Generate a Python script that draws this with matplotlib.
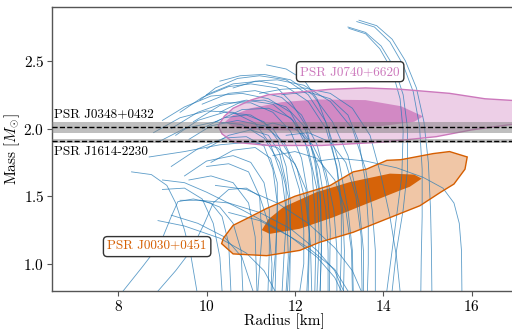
import matplotlib
matplotlib.use("Agg")
import matplotlib.pyplot as plt
from matplotlib.patches import Polygon

plt.rcParams["font.family"] = "serif"
plt.rcParams["font.serif"] = ["cmr10"]
plt.rcParams["mathtext.fontset"] = "cm"
plt.rcParams["axes.formatter.use_mathtext"] = True
plt.rcParams["axes.unicode_minus"] = False

# Pulsar mass bands (mass, error)
j0348_mass, j0348_err = 2.01, 0.04
j1614_mass, j1614_err = 1.908, 0.016

# NICER contours (radius, mass)
j0740_outer = [(10.26, 2.02), (10.4, 2.09), (10.6, 2.15), (11.0, 2.21), (11.4, 2.25),
               (12.1, 2.27), (12.8, 2.29), (13.6, 2.30), (14.4, 2.29), (15.5, 2.26),
               (16.3, 2.22), (17.3, 2.20), (17.3, 2.04), (16.9, 2.03), (16.0, 1.99),
               (15.2, 1.94), (14.0, 1.90), (12.6, 1.875), (11.4, 1.875), (10.6, 1.90),
               (10.35, 1.96)]
j0740_inner = [(10.42, 2.05), (10.6, 2.10), (11.0, 2.15), (11.7, 2.195), (12.5, 2.215),
               (13.6, 2.21), (14.4, 2.165), (14.9, 2.09), (14.7, 2.05), (14.0, 2.02),
               (13.0, 2.0), (12.0, 1.985), (11.0, 1.99), (10.6, 2.01)]
j0030_outer = [(10.34, 1.15), (10.38, 1.19), (10.6, 1.285), (11.0, 1.35), (11.36, 1.41),
               (12.0, 1.50), (12.56, 1.556), (12.8, 1.58), (13.32, 1.68), (13.62, 1.70),
               (14.08, 1.765), (14.4, 1.77), (15.13, 1.815), (15.5, 1.83), (15.9, 1.79),
               (15.85, 1.70), (15.6, 1.59), (15.3, 1.53), (14.83, 1.43), (14.08, 1.333),
               (13.32, 1.234), (12.56, 1.16), (12.11, 1.10), (11.36, 1.061), (10.6, 1.074)]
j0030_inner = [(11.25, 1.25), (11.4, 1.33), (11.74, 1.42), (12.49, 1.53), (13.25, 1.605),
               (14.15, 1.667), (14.7, 1.66), (14.87, 1.63), (14.6, 1.57), (14.38, 1.543),
               (13.62, 1.444), (12.87, 1.345), (12.11, 1.26), (11.43, 1.222)]

# EOS mass-radius curves, (radius km, mass Msun)
stiff_curves = [
    [(13.45, 2.80), (13.85, 2.76), (14.2, 2.66), (14.5, 2.50), (14.75, 2.30), (14.92, 2.05), (15.02, 1.75), (15.07, 1.40), (15.09, 1.10), (15.1, 0.8)],
    [(13.4, 2.79), (13.8, 2.75), (14.15, 2.64), (14.45, 2.47), (14.68, 2.27), (14.82, 2.02), (14.88, 1.70), (14.88, 1.35), (14.86, 1.05), (14.85, 0.8)],
    [(13.2, 2.75), (13.6, 2.71), (13.95, 2.61), (14.25, 2.45), (14.45, 2.25), (14.55, 2.0), (14.55, 1.7), (14.45, 1.4), (14.3, 1.1), (14.2, 0.8)],
    [(13.22, 2.74), (13.6, 2.70), (13.92, 2.59), (14.2, 2.43), (14.38, 2.22), (14.45, 1.98), (14.42, 1.65), (14.3, 1.35), (14.18, 1.05), (14.08, 0.8)],
    [(12.5, 1.76), (13.0, 1.78), (13.6, 1.76), (14.3, 1.71), (14.9, 1.64), (15.35, 1.56), (15.6, 1.45), (15.72, 1.3), (15.77, 1.1), (15.78, 0.8)],
    [(11.36, 2.47), (11.8, 2.44), (12.2, 2.36), (12.5, 2.22), (12.75, 2.0), (12.95, 1.7), (13.05, 1.4), (13.05, 1.1), (13.02, 0.8)],
    [(9.85, 2.21), (10.2, 2.30), (10.7, 2.37), (11.2, 2.39), (11.8, 2.36), (12.3, 2.25), (12.7, 2.05), (13.0, 1.75), (13.2, 1.4), (13.3, 1.1), (13.32, 0.8)],
    [(9.4, 2.12), (9.9, 2.23), (10.5, 2.31), (11.0, 2.33), (11.6, 2.30), (11.9, 2.2), (12.25, 2.02), (12.45, 1.75), (12.58, 1.45), (12.6, 1.1), (12.57, 0.8)],
    [(9.0, 2.06), (9.5, 2.16), (10.1, 2.24), (10.8, 2.26), (11.4, 2.22), (11.9, 2.12), (12.2, 1.94), (12.38, 1.7), (12.45, 1.4), (12.47, 1.1), (12.45, 0.8)],
    [(10.6, 2.30), (11.1, 2.35), (11.6, 2.36), (12.2, 2.32), (12.8, 2.20), (13.3, 2.0), (13.6, 1.7), (13.75, 1.4), (13.82, 1.1), (13.82, 0.8)],
    [(11.2, 2.26), (11.7, 2.29), (12.2, 2.30), (12.8, 2.26), (13.3, 2.15), (13.7, 1.95), (13.95, 1.65), (14.15, 1.35), (14.3, 1.05), (14.38, 0.8)],
    [(10.3, 2.35), (10.76, 2.39), (11.3, 2.40), (11.9, 2.36), (12.4, 2.25), (12.85, 2.05), (13.2, 1.8), (13.45, 1.45), (13.55, 1.1), (13.55, 0.8)],
    [(11.7, 2.25), (12.3, 2.27), (12.8, 2.22), (13.2, 2.1), (13.45, 1.9), (13.6, 1.6), (13.66, 1.3), (13.66, 1.0), (13.64, 0.8)],
    [(10.0, 2.25), (10.6, 2.33), (11.2, 2.35), (11.8, 2.31), (12.3, 2.2), (12.7, 2.0), (12.95, 1.72), (13.08, 1.4), (13.12, 1.1), (13.1, 0.8)],
]
mid_curves = [
    [(9.3, 1.95), (9.8, 2.06), (10.4, 2.12), (11.0, 2.10), (11.5, 2.0), (11.85, 1.82), (12.1, 1.55), (12.2, 1.25), (12.2, 1.0), (12.11, 0.8)],
    [(9.6, 1.92), (10.1, 2.02), (10.7, 2.06), (11.3, 2.02), (11.75, 1.9), (12.05, 1.7), (12.25, 1.45), (12.35, 1.15), (12.38, 0.8)],
    [(10.2, 2.05), (10.8, 2.14), (11.4, 2.15), (11.9, 2.08), (12.3, 1.92), (12.55, 1.7), (12.7, 1.4), (12.75, 1.1), (12.75, 0.8)],
    [(8.7, 1.79), (9.5, 1.83), (10.3, 1.88), (11.0, 1.9), (11.6, 1.86), (12.0, 1.74), (12.25, 1.55), (12.32, 1.25), (12.3, 1.0), (12.27, 0.8)],
    [(9.9, 2.0), (10.4, 2.08), (10.9, 2.1), (11.3, 2.05), (11.6, 1.92), (11.8, 1.72), (11.9, 1.45), (11.9, 1.15), (11.83, 0.8)],
    [(10.0, 1.85), (10.5, 1.95), (11.0, 1.99), (11.4, 1.95), (11.65, 1.82), (11.8, 1.6), (11.8, 1.3), (11.75, 1.05), (11.71, 0.8)],
    [(9.2, 1.72), (9.8, 1.85), (10.4, 1.93), (10.9, 1.94), (11.3, 1.87), (11.5, 1.7), (11.6, 1.45), (11.58, 1.15), (11.55, 0.8)],
    [(10.1, 1.75), (10.6, 1.84), (11.1, 1.86), (11.45, 1.78), (11.6, 1.6), (11.6, 1.35), (11.55, 1.05), (11.48, 0.8)],
    [(9.5, 1.65), (10.0, 1.76), (10.6, 1.8), (11.0, 1.75), (11.3, 1.6), (11.42, 1.4), (11.42, 1.1), (11.39, 0.8)],
    [(10.3, 2.12), (10.8, 2.2), (11.3, 2.21), (11.8, 2.16), (12.2, 2.02), (12.45, 1.8), (12.58, 1.5), (12.6, 1.15), (12.57, 0.8)],
    [(9.7, 2.05), (10.3, 2.17), (10.9, 2.21), (11.5, 2.18), (11.95, 2.06), (12.3, 1.85), (12.5, 1.55), (12.55, 1.2), (12.5, 0.8)],
    [(8.9, 1.9), (9.5, 2.0), (10.2, 2.05), (10.8, 2.03), (11.3, 1.93), (11.65, 1.75), (11.85, 1.5), (11.9, 1.2), (11.88, 0.8)],
    [(9.9, 2.18), (10.5, 2.26), (11.1, 2.28), (11.7, 2.23), (12.15, 2.1), (12.5, 1.88), (12.72, 1.6), (12.8, 1.25), (12.78, 0.8)],
    [(11.0, 2.0), (11.5, 2.04), (12.0, 2.0), (12.4, 1.88), (12.7, 1.68), (12.88, 1.4), (12.95, 1.1), (12.95, 0.8)],
    [(11.8, 1.95), (12.3, 1.97), (12.8, 1.9), (13.15, 1.75), (13.38, 1.5), (13.5, 1.2), (13.52, 0.8)],
    [(11.5, 1.8), (12.0, 1.83), (12.5, 1.78), (12.9, 1.62), (13.15, 1.4), (13.28, 1.1), (13.3, 0.8)],
    [(9.2, 2.0), (9.8, 2.12), (10.4, 2.19), (11.0, 2.19), (11.5, 2.12), (11.9, 1.98), (12.15, 1.78), (12.3, 1.5), (12.33, 1.2), (12.3, 0.8)],
    [(8.8, 1.97), (9.4, 2.08), (10.0, 2.13), (10.6, 2.12), (11.1, 2.04), (11.45, 1.88), (11.7, 1.65), (11.82, 1.35), (11.85, 1.05), (11.8, 0.8)],
]
soft_curves = [
    [(8.3, 1.68), (8.75, 1.66), (9.1, 1.58), (9.3, 1.45), (9.5, 1.25), (9.65, 1.05), (9.78, 0.8)],
    [(8.11, 0.8), (8.55, 0.98), (8.95, 1.15), (9.2, 1.35), (9.35, 1.46), (9.7, 1.48), (10.1, 1.45), (10.35, 1.35), (10.5, 1.15), (10.55, 0.8)],
    [(8.9, 0.8), (9.3, 0.95), (9.65, 1.1), (9.95, 1.3), (10.15, 1.45), (10.5, 1.55), (10.9, 1.56), (11.2, 1.5), (11.4, 1.3), (11.48, 1.0), (11.46, 0.8)],
    [(8.9, 1.32), (9.5, 1.28), (10.3, 1.19), (10.9, 1.08), (11.3, 0.95), (11.55, 0.8)],
    [(9.2, 1.36), (9.8, 1.3), (10.4, 1.2), (10.8, 1.05), (11.05, 0.8)],
    [(9.4, 1.47), (9.9, 1.47), (10.3, 1.42), (10.6, 1.3), (10.78, 1.1), (10.82, 0.8)],
    [(9.6, 1.62), (10.1, 1.65), (10.6, 1.6), (10.95, 1.45), (11.1, 1.2), (11.14, 0.8)],
    [(10.0, 1.72), (10.5, 1.74), (10.95, 1.68), (11.2, 1.5), (11.25, 1.2), (11.16, 0.8)],
    [(9.85, 1.47), (10.5, 1.45), (11.2, 1.38), (11.9, 1.26), (12.5, 1.1), (12.9, 0.95), (13.1, 0.8)],
    [(9.0, 1.62), (9.5, 1.6), (10.0, 1.53), (10.8, 1.40), (11.6, 1.26), (12.3, 1.12), (12.9, 0.96), (13.2, 0.8)],
    [(10.2, 1.58), (10.9, 1.55), (11.6, 1.45), (12.3, 1.3), (12.9, 1.12), (13.3, 0.95), (13.5, 0.8)],
    [(10.5, 1.38), (11.2, 1.32), (11.9, 1.2), (12.5, 1.05), (12.9, 0.9), (13.05, 0.8)],
    [(9.0, 1.55), (9.5, 1.56), (9.9, 1.48), (10.15, 1.3), (10.3, 1.05), (10.35, 0.8)],
]

pink = "#cc78bc"
orange = "#d55e00"
blue = "#1f77b4"

fig = plt.figure(figsize=(5.12, 3.30), dpi=100)
ax = fig.add_axes([52 / 512, 1 - 291 / 330, 463.8 / 512, 284.3 / 330])

for curve in stiff_curves + mid_curves + soft_curves:
    r, m = zip(*curve)
    ax.plot(r, m, color=blue, lw=0.6, alpha=0.72, zorder=2)

ax.add_patch(Polygon(j0740_outer, closed=True, fc=pink, alpha=0.35, ec="none", zorder=1))
ax.add_patch(Polygon(j0740_outer, closed=True, fc="none", ec=pink, lw=1, zorder=3))
ax.add_patch(Polygon(j0740_inner, closed=True, fc=pink, alpha=0.8, ec="none", zorder=1.5))
ax.add_patch(Polygon(j0030_outer, closed=True, fc=orange, alpha=0.35, ec="none", zorder=1))
ax.add_patch(Polygon(j0030_outer, closed=True, fc="none", ec=orange, lw=1, zorder=3))
ax.add_patch(Polygon(j0030_inner, closed=True, fc=orange, alpha=0.95, ec="none", zorder=1.5))

ax.axhspan(j0348_mass - j0348_err, j0348_mass + j0348_err, color="gray", alpha=0.5, lw=0, zorder=4)
ax.axhline(j0348_mass, color="k", ls="--", lw=1, zorder=5)
ax.axhspan(j1614_mass - j1614_err, j1614_mass + j1614_err, color="gray", alpha=0.5, lw=0, zorder=4)
ax.axhline(j1614_mass, color="k", ls="--", lw=1, zorder=5)

ax.text(6.55, 2.06, "PSR J0348+0432", fontsize=9.5, ha="left", va="bottom", zorder=6)
ax.text(6.55, 1.87, "PSR J1614-2230", fontsize=9.5, ha="left", va="top", zorder=6)

box = dict(boxstyle="round,pad=0.3", fc="white", ec="#333333", lw=1)
ax.text(13.25, 2.42, "PSR J0740+6620", color=pink, fontsize=9.5, ha="center", va="center",
        bbox=box, zorder=7)
ax.text(8.88, 1.128, "PSR J0030+0451", color=orange, fontsize=9.5, ha="center", va="center",
        bbox=box, zorder=7)

ax.set_xlim(6.5, 17)
ax.set_ylim(0.8, 2.9)
ax.set_xticks([8, 10, 12, 14, 16])
ax.set_yticks([1.0, 1.5, 2.0, 2.5])
ax.set_xlabel("Radius [km]", fontsize=11, labelpad=0)
ax.set_ylabel(r"Mass [$M_{\odot}$]", fontsize=11, labelpad=1)
ax.tick_params(labelsize=11, direction="out", length=3.5, pad=2, color="#555555")
for s in ax.spines.values():
    s.set_color("#555555")
    s.set_linewidth(1)

fig.savefig("out.png", dpi=100)
